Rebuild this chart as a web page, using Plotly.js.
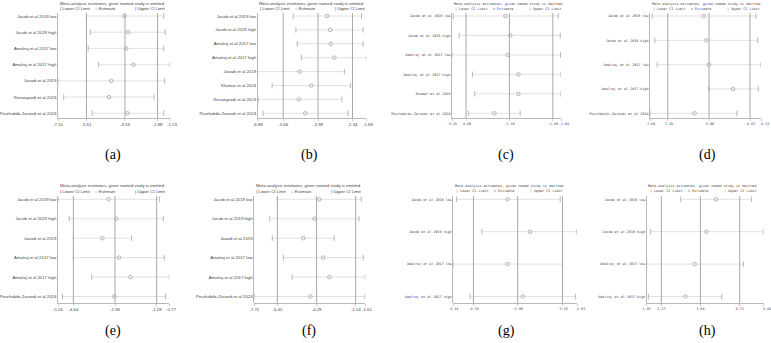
<!DOCTYPE html>
<html>
<head>
<meta charset="utf-8">
<script src="https://cdn.plot.ly/plotly-3.0.1.min.js"></script>
<style>html,body{margin:0;padding:0;background:#fff;}#chart{width:771px;height:343px;}</style>
</head>
<body>
<div id="chart"></div>
<script>
// ---------- DATA ----------
const studiesA = ["Jacob et al 2019 low","Jacob et al 2019 high","Amalraj et al 2017 low","Amalraj et al 2017 high","Javadi et al 2019","Rezaeyazdi et al 2023","Pourhabibi-Zarandi et al 2024"];
const estA = [-3.62,-3.43,-3.53,-3.15,-4.31,-4.43,-3.46];
const lowA = [-5.61,-5.40,-5.52,-4.97,-7.10,-6.80,-5.31];
const upA  = [-1.56,-1.48,-1.56,-1.23,-1.51,-2.07,-1.56];
const ticksA = [-7.10,-5.61,-3.59,-1.88,-1.23];

const studiesB = ["Jacob et al 2019 low","Jacob et al 2019 high","Amalraj et al 2017 low","Amalraj et al 2017 high","Javadi et al 2019","Khamar et al 2024","Rezaeyazdi et al 2023","Pourhabibi-Zarandi et al 2024"];
const estB = [-3.56,-3.41,-3.38,-3.21,-4.87,-4.31,-4.91,-4.60];
const lowB = [-5.18,-5.05,-4.99,-4.79,-6.88,-6.19,-6.86,-6.62];
const upB  = [-1.91,-1.83,-1.83,-1.68,-2.73,-2.44,-2.85,-2.55];
const ticksB = [-6.88,-5.66,-3.99,-2.34,-1.68];

const studiesC = ["Jacob et al 2019 low","Jacob et al 2019 high","Amalraj et al 2017 low","Amalraj et al 2017 high","Khamar et al 2024","Pourhabibi-Zarandi et al 2024"];
const estC = [-3.26,-3.07,-3.17,-2.75,-2.75,-3.69];
const lowC = [-5.30,-5.07,-5.35,-4.55,-4.46,-4.71];
const upC  = [-1.19,-1.11,-1.10,-1.08,-1.08,-2.68];
const ticksC = [-5.35,-4.80,-3.10,-1.40,-1.08];

const studiesD = ["Jacob et al 2019 low","Jacob et al 2019 high","Amalraj et al 2017 low","Amalraj et al 2017 high","Pourhabibi-Zarandi et al 2024"];
const estD = [-6.08,-5.99,-5.91,-5.09,-6.39];
const lowD = [-7.82,-7.73,-7.65,-5.91,-7.89];
const upD  = [-4.32,-4.26,-4.15,-4.24,-4.96];
const ticksD = [-7.89,-7.29,-5.90,-4.52,-4.15];

const studiesE = ["Jacob et al 2019 low","Jacob et al 2019 high","Javadi et al 2019","Amalraj et al 2017 low","Amalraj et al 2017 high","Pourhabibi-Zarandi et al 2024"];
const estE = [-3.22,-2.91,-3.47,-2.80,-2.34,-2.99];
const lowE = [-5.26,-4.81,-4.64,-4.64,-3.90,-5.08];
const upE  = [-1.17,-1.01,-2.29,-0.97,-0.77,-0.92];
const ticksE = [-5.26,-4.64,-2.96,-1.28,-0.77];

const studiesF = ["Jacob et al 2019 low","Jacob et al 2019 high","Javadi et al 2019","Amalraj et al 2017 low","Amalraj et al 2017 high","Pourhabibi-Zarandi et al 2024"];
const estF = [-4.14,-4.41,-5.02,-3.92,-3.59,-4.63];
const lowF = [-6.45,-6.87,-6.73,-6.12,-5.64,-7.72];
const upF  = [-1.83,-1.96,-3.33,-1.72,-1.61,-1.63];
const ticksF = [-7.72,-6.45,-4.29,-2.14,-1.61];

const studiesG = ["Jacob et al 2019 low","Jacob et al 2019 high","Amalraj et al 2017 low","Amalraj et al 2017 high"];
const estG = [-4.17,-3.77,-4.17,-3.90];
const lowG = [-5.08,-4.63,-5.14,-4.84];
const upG  = [-3.23,-2.93,-3.19,-2.96];
const ticksG = [-5.14,-4.78,-3.99,-3.19,-2.93];

const studiesH = ["Jacob et al 2019 low","Jacob et al 2019 high","Amalraj et al 2017 low","Amalraj et al 2017 high"];
const estH = [4.01,3.72,3.37,3.09];
const lowH = [2.95,2.05,1.93,1.98];
const upH  = [5.07,5.44,4.83,4.18];
const ticksH = [1.93,2.37,3.54,4.72,5.44];

const panelLetters = ["(a)","(b)","(c)","(d)","(e)","(f)","(g)","(h)"];
const titleText = "Meta-analysis estimates, given named study is omitted";

// ---------- LAYOUT HELPERS ----------
const W = 771, H = 343;
const SANS = "Liberation Sans, Arial, sans-serif";
const MONO = "DejaVu Sans Mono, Liberation Mono, monospace";

const panels = [
  {s:studiesA,e:estA,l:lowA,u:upA,t:ticksA,x0:58,x1:170,row:0,font:SANS,fs:4.3,cx:113},
  {s:studiesB,e:estB,l:lowB,u:upB,t:ticksB,x0:257.7,x1:366.3,row:0,font:SANS,fs:4.3,cx:309},
  {s:studiesC,e:estC,l:lowC,u:upC,t:ticksC,x0:452,x1:561,row:0,font:MONO,fs:3.4,cx:506},
  {s:studiesD,e:estD,l:lowD,u:upD,t:ticksD,x0:650,x1:761,row:0,font:MONO,fs:3.4,cx:707},
  {s:studiesE,e:estE,l:lowE,u:upE,t:ticksE,x0:58,x1:169.3,row:1,font:SANS,fs:4.3,cx:113},
  {s:studiesF,e:estF,l:lowF,u:upF,t:ticksF,x0:254.3,x1:365.3,row:1,font:SANS,fs:4.3,cx:309},
  {s:studiesG,e:estG,l:lowG,u:upG,t:ticksG,x0:453.3,x1:577,row:1,font:MONO,fs:3.4,cx:506},
  {s:studiesH,e:estH,l:lowH,u:upH,t:ticksH,x0:646.7,x1:763.7,row:1,font:MONO,fs:3.4,cx:707}
];
const rows = [
  {top:13, bottom:118, first:16, last:113.3, titleY:3.6, legY:8.6, letterY:155},
  {top:196, bottom:303, first:199.3, last:296.5, titleY:185.7, legY:191, letterY:331}
];

const data = [], shapes = [], annotations = [];
const layout = {
  width: W, height: H, margin:{l:0,r:0,t:0,b:0},
  paper_bgcolor:'#fff', plot_bgcolor:'rgba(0,0,0,0)', showlegend:false
};
const gridC = '#a8a8a8', ciC = '#d4d4d4', capC = '#9a9a9a', txtC = '#444';

panels.forEach((p, i) => {
  const k = i + 1;
  const xs = k === 1 ? 'x' : 'x' + k, ys = k === 1 ? 'y' : 'y' + k;
  const xa = k === 1 ? 'xaxis' : 'xaxis' + k, ya = k === 1 ? 'yaxis' : 'yaxis' + k;
  const R = rows[p.row];
  const n = p.s.length;
  const ppu = (R.last - R.first) / (n - 1);
  const yTop = 1 - (R.first - R.top) / ppu;
  const yBot = n + (R.bottom - R.last) / ppu;
  const pos = p.s.map((_, j) => j + 1);
  const mono = p.font === MONO;

  // CI lines
  const lx = [], ly = [];
  p.l.forEach((v, j) => { lx.push(v, p.u[j], null); ly.push(j + 1, j + 1, null); });
  data.push({type:'scatter', mode:'lines', x:lx, y:ly, xaxis:xs, yaxis:ys,
    line:{color:ciC, width:0.7}, hoverinfo:'skip'});
  data.push({type:'scatter', mode:'markers', x:p.l, y:pos, xaxis:xs, yaxis:ys,
    marker:{symbol:'line-ns', size:4, line:{color:capC, width:0.7}}, hoverinfo:'skip'});
  data.push({type:'scatter', mode:'markers', x:p.u, y:pos, xaxis:xs, yaxis:ys,
    marker:{symbol:'line-ns', size:4, line:{color:capC, width:0.7}}, hoverinfo:'skip'});
  data.push({type:'scatter', mode:'markers', x:p.e, y:pos, xaxis:xs, yaxis:ys,
    marker:{symbol:'circle-open', size:3.6, color:capC, line:{color:capC, width:0.7}}, hoverinfo:'skip'});

  // reference lines at overall lower, estimate, upper (ticks 2..4)
  [p.t[1], p.t[2], p.t[3]].forEach(v => {
    shapes.push({type:'line', xref:xs, yref:ys + ' domain', x0:v, x1:v, y0:0, y1:1,
      line:{color:gridC, width:1}});
  });

  // tick labels: the right-most one is placed as an annotation nudged right so it
  // does not collide with its close neighbour
  const tt = p.t.map(v => v.toFixed(2));
  const lastTxt = tt[4];
  tt[4] = '';

  layout[xa] = {
    domain:[p.x0 / W, p.x1 / W], anchor:ys, range:[p.t[0], p.t[4]],
    tickmode:'array', tickvals:p.t, ticktext:tt,
    tickangle:0,
    showline:true, linecolor:gridC, linewidth:0.8, ticks:'outside', ticklen:2,
    tickcolor:gridC, tickwidth:0.6, tickfont:{family:p.font, size:p.fs, color:txtC},
    showgrid:false, zeroline:false, fixedrange:true
  };
  layout[ya] = {
    domain:[1 - R.bottom / H, 1 - R.top / H], anchor:xs, range:[yBot, yTop],
    tickmode:'array', tickvals:pos, ticktext:p.s,
    showline:true, linecolor:gridC, linewidth:0.8, ticks:'',
    tickfont:{family:p.font, size:p.fs, color:txtC},
    showgrid:false, zeroline:false, fixedrange:true
  };
  annotations.push({xref:xs, yref:ys + ' domain', x:p.t[4], y:0,
    xanchor:'center', yanchor:'middle', xshift:(mono ? 3 : 2), yshift:-(3.2 + p.fs * 0.75),
    showarrow:false, text:lastTxt, borderpad:0, borderwidth:0,
    font:{family:p.font, size:p.fs, color:txtC}});

  // title and legend
  annotations.push({xref:'paper', yref:'paper', x:(p.x0 + 0.5) / W, y:1 - R.titleY / H,
    xanchor:'left', yanchor:'middle', showarrow:false, text:titleText,
    font:{family:p.font, size:p.fs, color:txtC}, borderpad:0});
  const legOff = mono ? [2, 40, 76] : [1, 36, 76];
  const legTxt = ['| Lower CI Limit', '○ Estimate', '| Upper CI Limit'];
  legTxt.forEach((t, j) => {
    annotations.push({xref:'paper', yref:'paper', x:(p.x0 + legOff[j]) / W, y:1 - R.legY / H,
      xanchor:'left', yanchor:'middle', showarrow:false, text:t,
      font:{family:p.font, size:p.fs, color:txtC}, borderpad:0});
  });
  annotations.push({xref:'paper', yref:'paper', x:p.cx / W, y:1 - R.letterY / H,
    xanchor:'center', yanchor:'middle', showarrow:false, text:panelLetters[i],
    font:{family:'Liberation Serif, Times New Roman, serif', size:14, color:'#000'}});
});

layout.shapes = shapes;
layout.annotations = annotations;
Plotly.newPlot('chart', data, layout, {displayModeBar:false, staticPlot:true});
</script>
</body>
</html>
